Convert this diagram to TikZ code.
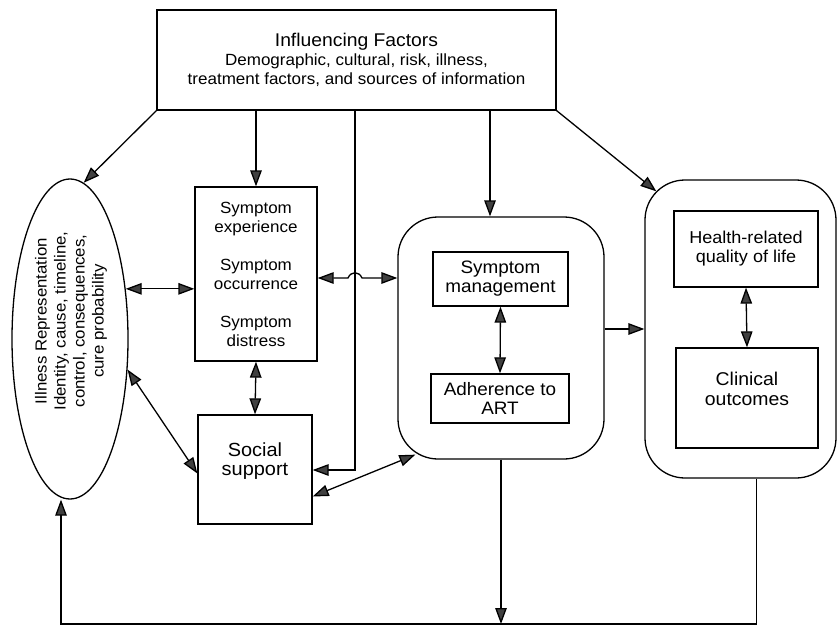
\documentclass[tikz,border=0pt]{standalone}
\usepackage{fontspec}
\setmainfont{Liberation Sans}[FakeStretch=1.05]
\usetikzlibrary{arrows.meta, shapes.geometric, calc}

\begin{document}
\begin{tikzpicture}[x=1pt, y=-1pt, line width=1.3pt,
		box/.style={draw, rectangle, inner sep=0pt, align=center},
		wrap/.style={draw, rectangle, rounded corners=40pt, inner sep=0pt},
		txt/.style={inner sep=0pt, align=center},
		big/.style={font=\fontsize{18}{19}\selectfont},
		small/.style={font=\fontsize{16.2}{19}\selectfont},
		tip/.style={-{Triangle[length=16pt, width=11.5pt, fill=black!75]}},
		dtip/.style={{Triangle[length=16pt, width=11.5pt, fill=black!75]}-{Triangle[length=16pt, width=11.5pt, fill=black!75]}}]

			\useasboundingbox (0,0) rectangle (838,626);

			\begin{scope}
				\node [box, small, minimum width=399, minimum height=100] (top) at (356.5,60)
					{{\fontsize{18.4}{19}\selectfont Influencing Factors}\\Demographic, cultural, risk, illness,\\treatment factors, and sources of information};

				\node [draw, ellipse, minimum width=116, minimum height=320, inner sep=0pt] (ir) at (70,339) {};
				\node [txt, rotate=90, font=\fontsize{16}{19}\selectfont] (irtext) at (71,321)
					{Illness Representation\\Identity, cause, timeline,\\control, consequences,\\cure probability};

				\node [box, small, minimum width=122, minimum height=174] (exp) at (256,274)
					{Symptom\\experience\\[19pt]Symptom\\occurrence\\[19pt]Symptom\\distress};
				\node [box, minimum width=114, minimum height=109] (social) at (255,469.5) {};
				\node [txt, font=\fontsize{19}{19}\selectfont] (socialtext) at (255,461) {Social\\support};
			\end{scope}

			\begin{scope}
				\node [wrap, minimum width=206, minimum height=242] (mgmtwrap) at (501,338) {};
				\node [box, big, minimum width=135, minimum height=54] (mgmt) at (500.5,279) {Symptom\\management};
				\node [box, big, minimum width=138, minimum height=49] (art) at (500,398.5) {Adherence to\\ART};
			\end{scope}

			\begin{scope}
				\node [wrap, minimum width=191, minimum height=298] (hqwrap) at (740.5,329) {};
				\node [box, minimum width=144, minimum height=76, font=\fontsize{17.2}{19}\selectfont] (hrql) at (746,249)
					{Health-related\\quality of life};
				\node [box, minimum width=142, minimum height=100] (clin) at (747,398) {};
				\node [txt, font=\fontsize{18.5}{20}\selectfont] (clintext) at (747,389) {Clinical\\outcomes};
			\end{scope}

			\coordinate (m) at ([xshift=-11pt]mgmtwrap.north);
			\coordinate (bend) at (355,470);
			\coordinate (base) at (61,624);
			\coordinate (hqout) at ([xshift=16pt]hqwrap.south);
			\coordinate (irfoot) at ([xshift=-9pt]ir.south);
			\coordinate (hqcorner) at ([xshift=12pt, yshift=-12pt]hqwrap.north west);
			\coordinate (mgmtcorner) at ([xshift=18pt, yshift=5pt]mgmtwrap.south west);
			\coordinate (jl) at ([yshift=-4pt]exp.east);

			\begin{scope}[tip]
				\draw (top.south west) -- (ir.85);
				\draw (top.south east) -- (hqcorner);
				\draw (exp.north |- top.south) -- (exp.north);
				\draw (m |- top.south) -- (m);
				\draw (top.south -| bend) -- (bend) -- (bend -| social.east);
				\draw (hqwrap.west -| mgmtwrap.east) -- (hqwrap.west);
				\draw (mgmtwrap.south) -- (mgmtwrap.south |- base);
				\draw (hqout) |- (base) -- (irfoot);
			\end{scope}

			\begin{scope}[dtip]
				\draw (ir.42) -- (ir.42 -| exp.west);
				\draw (ir.-28) -- ([yshift=-4pt]social.west);
				\draw (exp.south) -- (social.north);
				\draw (jl) -- (348,278) .. controls (351,271) and (359,271) .. (362,278) -- (jl -| mgmtwrap.west);
				\draw ([yshift=-27pt]social.east) -- (mgmtcorner);
				\draw (mgmt.south) -- (art.north);
				\draw (hrql.south) -- (clin.north);
			\end{scope}
		\end{tikzpicture}
\end{document}
